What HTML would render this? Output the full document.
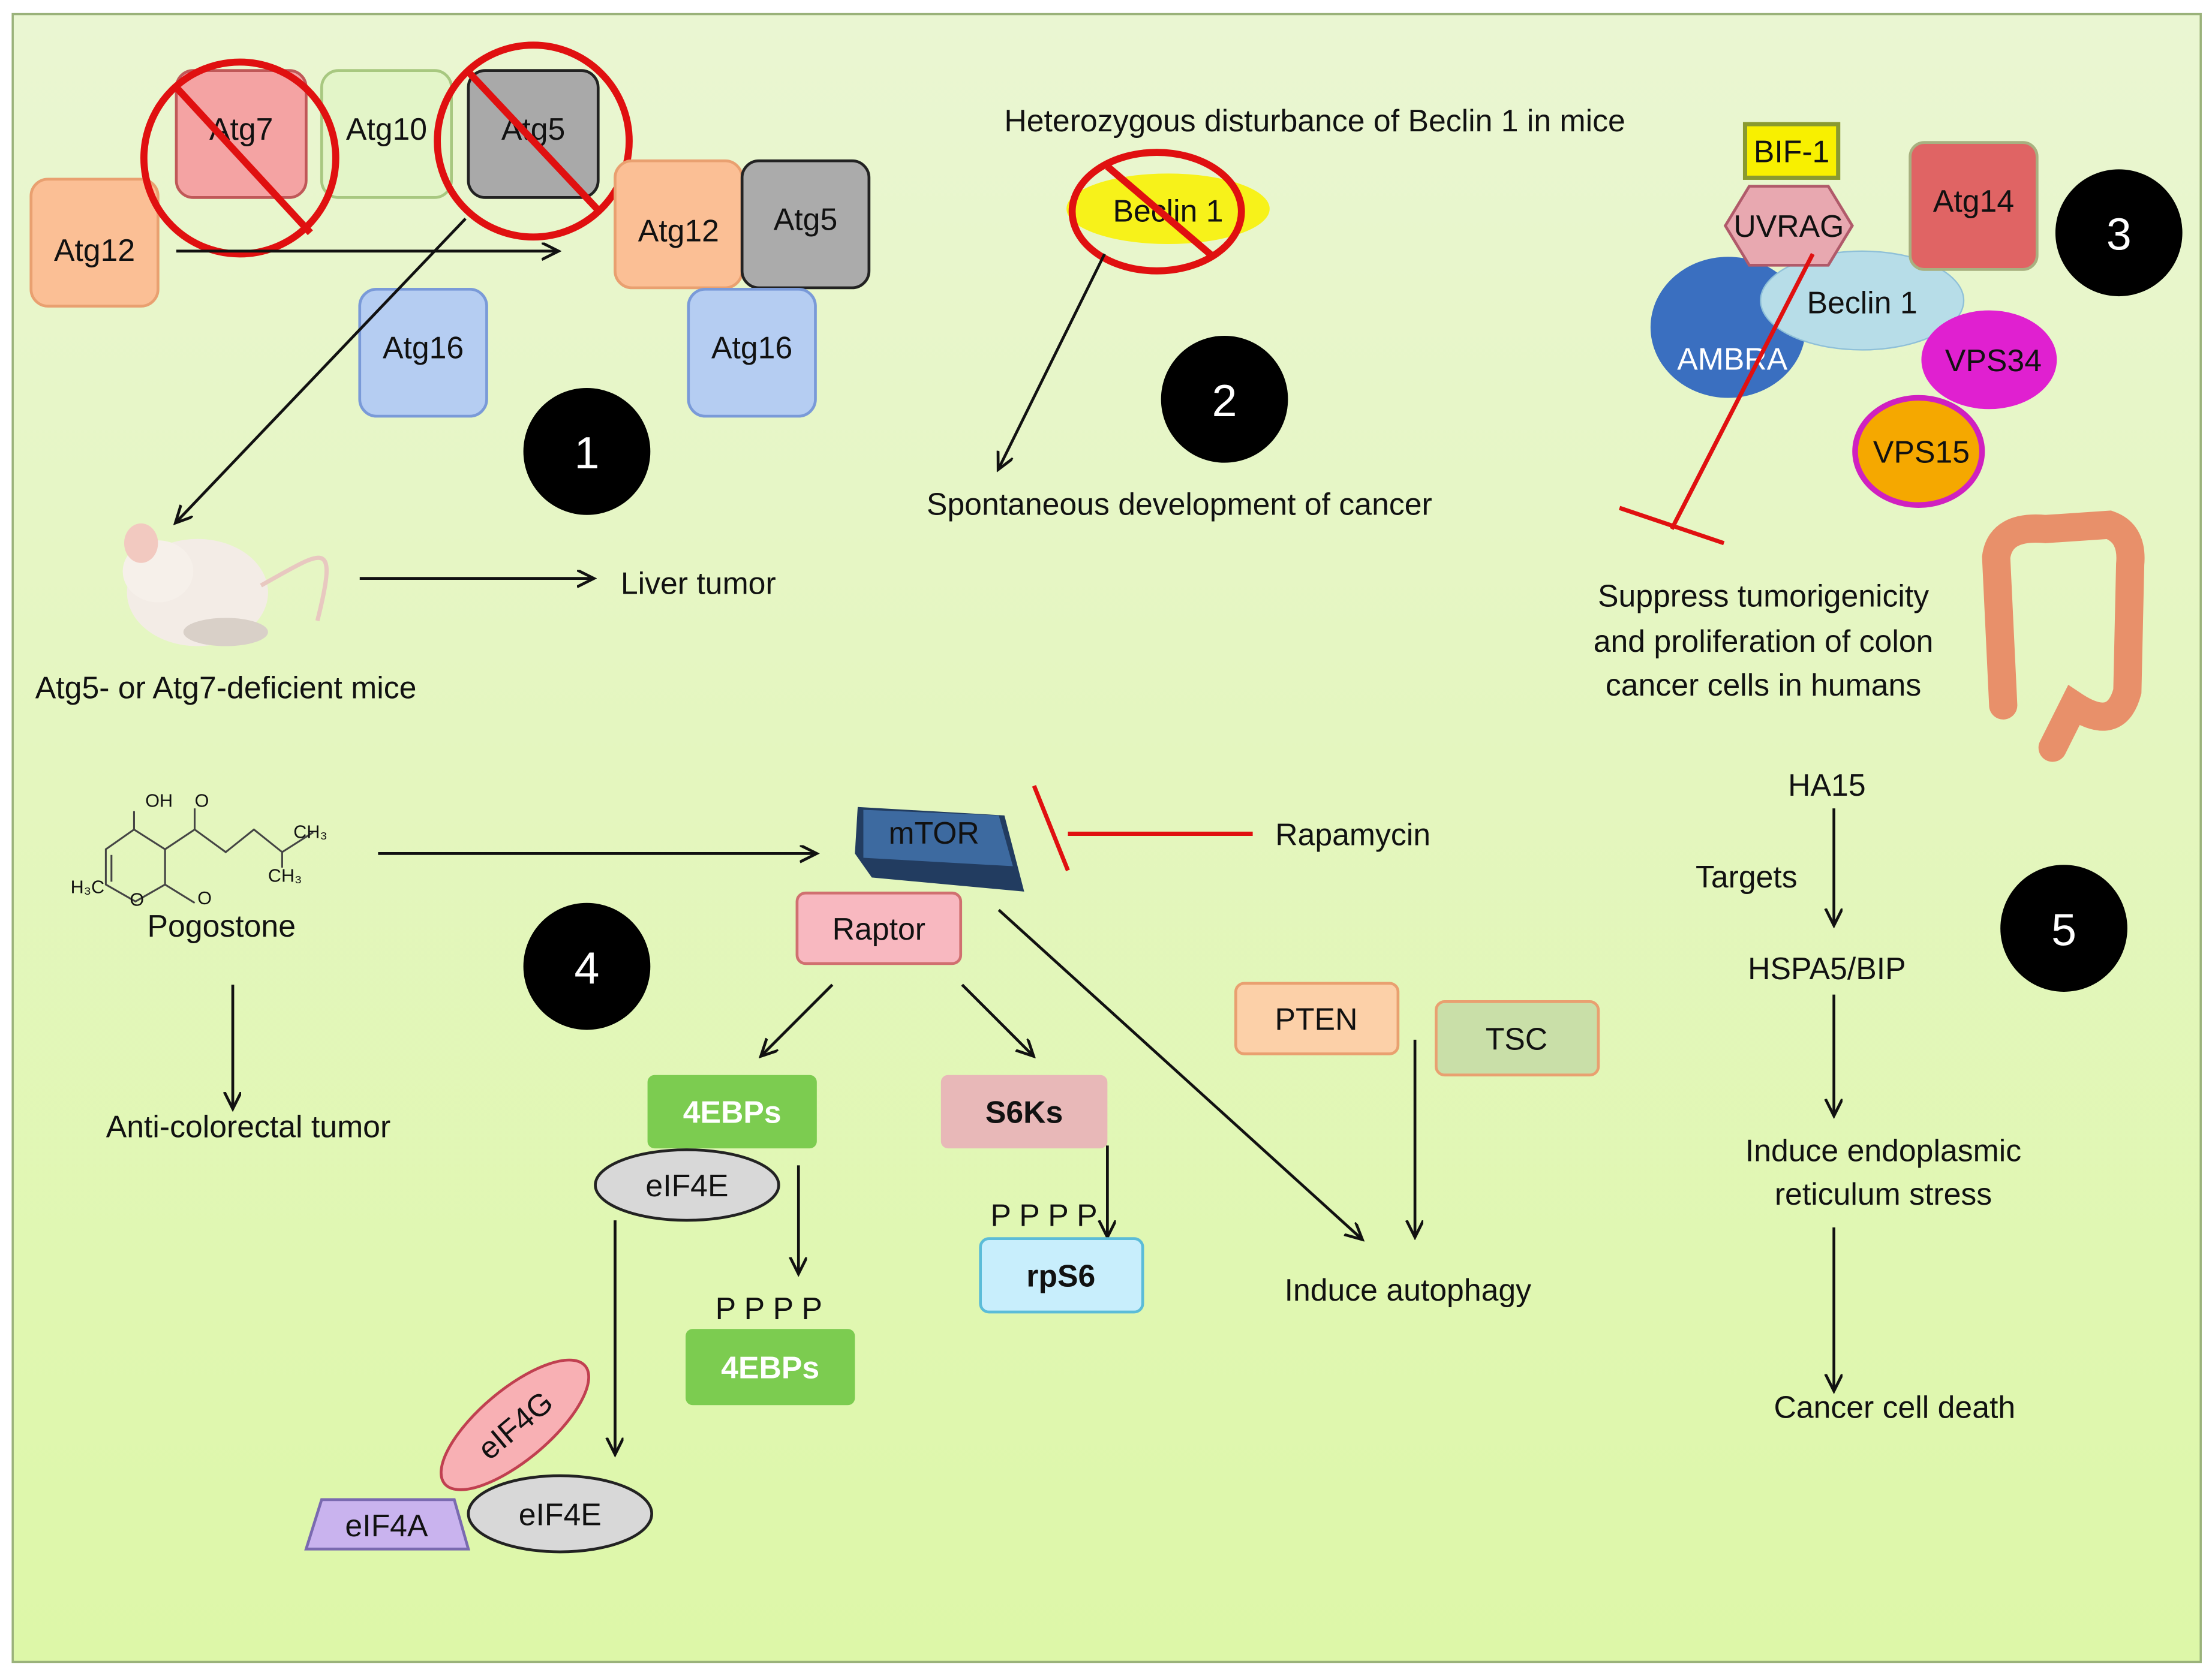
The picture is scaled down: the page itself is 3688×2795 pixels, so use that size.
<!DOCTYPE html>
<html><head><meta charset="utf-8"><style>
html,body{margin:0;padding:0;width:3688px;height:2795px;overflow:hidden;background:#fff}
svg{display:block}
text{font-family:"Liberation Sans",sans-serif;fill:#111}
</style></head><body>
<svg width="3688" height="2795" viewBox="0 0 1568 1188" preserveAspectRatio="none" xmlns="http://www.w3.org/2000/svg">
<defs>
<linearGradient id="bg" x1="0" y1="0" x2="0" y2="1"><stop offset="0" stop-color="#eaf6d2"/><stop offset="1" stop-color="#ddf7a8"/></linearGradient>
<marker id="ar" markerWidth="14" markerHeight="14" refX="11" refY="6" orient="auto" markerUnits="userSpaceOnUse"><path d="M0,0 L12,6 L0,12" fill="none" stroke="#111" stroke-width="2"/></marker>
</defs>
<rect x="0" y="0" width="1568" height="1188" fill="#fff"/>
<rect x="9" y="10" width="1551" height="1168" fill="url(#bg)" stroke="#9ab27a" stroke-width="1.5"/>
<g font-size="22">
<!-- section 1 -->
<rect x="22" y="127" width="90" height="90" rx="12" fill="#fbbf95" stroke="#e9a070" stroke-width="2"/><text x="67" y="185" text-anchor="middle">Atg12</text>
<rect x="125" y="50" width="92" height="90" rx="12" fill="#f4a3a3" stroke="#c05858" stroke-width="2"/><text x="171" y="99" text-anchor="middle">Atg7</text>
<rect x="228" y="50" width="92" height="90" rx="12" fill="#e3f5c8" stroke="#a8c880" stroke-width="2"/><text x="274" y="99" text-anchor="middle">Atg10</text>
<rect x="332" y="50" width="92" height="90" rx="12" fill="#a9a9a9" stroke="#222" stroke-width="2"/><text x="378" y="99" text-anchor="middle">Atg5</text>
<circle cx="170" cy="112" r="68" fill="none" stroke="#e01010" stroke-width="5"/><line x1="125" y1="62" x2="220" y2="165" stroke="#e01010" stroke-width="5"/>
<circle cx="378" cy="100" r="68" fill="none" stroke="#e01010" stroke-width="5"/><line x1="333" y1="52" x2="425" y2="150" stroke="#e01010" stroke-width="5"/>
<line x1="125" y1="178" x2="395" y2="178" stroke="#111" stroke-width="2" marker-end="url(#ar)"/>
<rect x="436" y="114" width="90" height="90" rx="12" fill="#fbbf95" stroke="#e9a070" stroke-width="2"/><text x="481" y="171" text-anchor="middle">Atg12</text>
<rect x="526" y="114" width="90" height="90" rx="12" fill="#ababab" stroke="#222" stroke-width="2"/><text x="571" y="163" text-anchor="middle">Atg5</text>
<rect x="255" y="205" width="90" height="90" rx="12" fill="#b5cdf2" stroke="#7a9ad8" stroke-width="2"/><text x="300" y="254" text-anchor="middle">Atg16</text>
<rect x="488" y="205" width="90" height="90" rx="12" fill="#b5cdf2" stroke="#7a9ad8" stroke-width="2"/><text x="533" y="254" text-anchor="middle">Atg16</text>
<circle cx="416" cy="320" r="45" fill="#000"/><text x="416" y="332" font-size="32" text-anchor="middle" style="fill:#fff">1</text>
<line x1="330" y1="155" x2="125" y2="370" stroke="#111" stroke-width="2" marker-end="url(#ar)"/>
<!-- mouse -->
<ellipse cx="140" cy="420" rx="50" ry="38" fill="#f3ece6"/><ellipse cx="112" cy="405" rx="25" ry="22" fill="#f6f0ea"/><ellipse cx="100" cy="385" rx="12" ry="14" fill="#f2c9c0"/><ellipse cx="160" cy="448" rx="30" ry="10" fill="#d9d0c8"/>
<path d="M185,415 C230,390 240,380 225,440" fill="none" stroke="#e8c8c0" stroke-width="3"/>
<line x1="255" y1="410" x2="420" y2="410" stroke="#111" stroke-width="2" marker-end="url(#ar)"/>
<text x="440" y="421">Liver tumor</text>
<text x="25" y="495">Atg5- or Atg7-deficient mice</text>
<!-- section 2 -->
<text x="932" y="93" text-anchor="middle">Heterozygous disturbance of Beclin 1 in mice</text>
<ellipse cx="828" cy="148" rx="72" ry="25" fill="#f7f21a"/><text x="828" y="157" text-anchor="middle">Beclin 1</text>
<ellipse cx="820" cy="150" rx="60" ry="42" fill="none" stroke="#e01010" stroke-width="5"/><line x1="785" y1="118" x2="860" y2="182" stroke="#e01010" stroke-width="5"/>
<line x1="783" y1="180" x2="708" y2="332" stroke="#111" stroke-width="2" marker-end="url(#ar)"/>
<circle cx="868" cy="283" r="45" fill="#000"/><text x="868" y="295" font-size="32" text-anchor="middle" style="fill:#fff">2</text>
<text x="836" y="365" text-anchor="middle">Spontaneous development of cancer</text>
<!-- section 3 -->
<ellipse cx="1225" cy="232" rx="55" ry="50" fill="#3a6fc0"/><text x="1228" y="262" text-anchor="middle" style="fill:#fff">AMBRA</text>
<ellipse cx="1320" cy="213" rx="72" ry="35" fill="#b7dde8" stroke="#8fc0d8"/><text x="1320" y="222" text-anchor="middle">Beclin 1</text>
<rect x="1237" y="88" width="66" height="38" fill="#f8f000" stroke="#8a9a30" stroke-width="3"/><text x="1270" y="115" text-anchor="middle">BIF-1</text>
<polygon points="1223,160 1240,132 1296,132 1313,160 1296,188 1240,188" fill="#e8a8b0" stroke="#b05a6a" stroke-width="2"/><text x="1268" y="168" text-anchor="middle">UVRAG</text>
<rect x="1354" y="101" width="90" height="90" rx="10" fill="#e06464" stroke="#a8b080" stroke-width="2"/><text x="1399" y="150" text-anchor="middle">Atg14</text>
<circle cx="1502" cy="165" r="45" fill="#000"/><text x="1502" y="177" font-size="32" text-anchor="middle" style="fill:#fff">3</text>
<ellipse cx="1410" cy="255" rx="48" ry="35" fill="#e020d0"/><text x="1413" y="263" text-anchor="middle">VPS34</text>
<ellipse cx="1360" cy="320" rx="45" ry="38" fill="#f5a800" stroke="#d020c0" stroke-width="4"/><text x="1362" y="328" text-anchor="middle">VPS15</text>
<line x1="1285" y1="180" x2="1185" y2="375" stroke="#e01010" stroke-width="3"/><line x1="1148" y1="360" x2="1222" y2="385" stroke="#e01010" stroke-width="3"/>
<text x="1250" y="430" text-anchor="middle">Suppress tumorigenicity</text>
<text x="1250" y="462" text-anchor="middle">and proliferation of colon</text>
<text x="1250" y="493" text-anchor="middle">cancer cells in humans</text>
<path d="M1420,500 L1415,395 Q1418,372 1450,375 L1495,372 Q1512,378 1510,400 L1508,490 Q1500,520 1470,500 L1455,530" fill="none" stroke="#e8906a" stroke-width="20" stroke-linecap="round"/>
<!-- section 4 -->
<g stroke="#444" stroke-width="1.3" fill="none">
<path d="M75,627 L75,602 L95,588 L117,602 L117,627 L96,639 Z M79,606 L79,625"/>
<path d="M95,588 L95,575 M117,602 L138,588 L160,604 L180,588 L200,604 L222,590 M200,604 L200,615 M138,588 L138,573 M117,627 L138,640"/>
</g>
<g font-size="13"><text x="103" y="572">OH</text><text x="138" y="572">O</text><text x="208" y="594">CH₃</text><text x="190" y="625">CH₃</text><text x="50" y="633">H₃C</text><text x="92" y="642">O</text><text x="140" y="641">O</text></g>
<text x="157" y="664" text-anchor="middle">Pogostone</text>
<line x1="268" y1="605" x2="578" y2="605" stroke="#111" stroke-width="2" marker-end="url(#ar)"/>
<line x1="165" y1="698" x2="165" y2="785" stroke="#111" stroke-width="2" marker-end="url(#ar)"/>
<text x="176" y="806" text-anchor="middle">Anti-colorectal tumor</text>
<circle cx="416" cy="685" r="45" fill="#000"/><text x="416" y="697" font-size="32" text-anchor="middle" style="fill:#fff">4</text>
<polygon points="608,572 712,578 726,632 618,622 606,605" fill="#223c60"/><polygon points="612,574 708,578 718,614 612,608" fill="#3d6aa0"/><text x="662" y="598" text-anchor="middle">mTOR</text>
<line x1="757" y1="591" x2="888" y2="591" stroke="#e01010" stroke-width="3"/><line x1="733" y1="557" x2="757" y2="617" stroke="#e01010" stroke-width="3"/>
<text x="904" y="599">Rapamycin</text>
<rect x="565" y="633" width="116" height="50" rx="6" fill="#f8b8c0" stroke="#d07070" stroke-width="2"/><text x="623" y="666" text-anchor="middle">Raptor</text>
<line x1="590" y1="698" x2="540" y2="748" stroke="#111" stroke-width="2" marker-end="url(#ar)"/>
<line x1="682" y1="698" x2="732" y2="748" stroke="#111" stroke-width="2" marker-end="url(#ar)"/>
<line x1="708" y1="645" x2="965" y2="878" stroke="#111" stroke-width="2" marker-end="url(#ar)"/>
<rect x="459" y="762" width="120" height="52" rx="5" fill="#7ccc50"/><text x="519" y="796" text-anchor="middle" font-weight="bold" style="fill:#fff">4EBPs</text>
<ellipse cx="487" cy="840" rx="65" ry="25" fill="#d8d8d8" stroke="#222" stroke-width="2"/><text x="487" y="848" text-anchor="middle">eIF4E</text>
<line x1="566" y1="826" x2="566" y2="902" stroke="#111" stroke-width="2" marker-end="url(#ar)"/>
<text x="545" y="935" text-anchor="middle">P P P P</text>
<rect x="486" y="942" width="120" height="54" rx="5" fill="#7ccc50"/><text x="546" y="977" text-anchor="middle" font-weight="bold" style="fill:#fff">4EBPs</text>
<rect x="667" y="762" width="118" height="52" rx="5" fill="#e8b8b8"/><text x="726" y="796" text-anchor="middle" font-weight="bold">S6Ks</text>
<line x1="785" y1="812" x2="785" y2="876" stroke="#111" stroke-width="2" marker-end="url(#ar)"/>
<text x="740" y="869" text-anchor="middle">P P P P</text>
<rect x="695" y="878" width="115" height="52" rx="6" fill="#c8eefc" stroke="#5bbcd8" stroke-width="2"/><text x="752" y="912" text-anchor="middle" font-weight="bold">rpS6</text>
<line x1="436" y1="865" x2="436" y2="1030" stroke="#111" stroke-width="2" marker-end="url(#ar)"/>
<ellipse cx="365" cy="1010" rx="65" ry="25" transform="rotate(-40 365 1010)" fill="#f8b0b4" stroke="#c04050" stroke-width="2"/><text x="365" y="1018" text-anchor="middle" transform="rotate(-40 365 1010)">eIF4G</text>
<polygon points="228,1063 322,1063 332,1098 217,1098" fill="#c9b3ee" stroke="#7a6ab0" stroke-width="2"/><text x="274" y="1089" text-anchor="middle">eIF4A</text>
<ellipse cx="397" cy="1073" rx="65" ry="27" fill="#d8d8d8" stroke="#222" stroke-width="2"/><text x="397" y="1081" text-anchor="middle">eIF4E</text>
<rect x="876" y="697" width="115" height="50" rx="6" fill="#fcd0a8" stroke="#e9a070" stroke-width="2"/><text x="933" y="730" text-anchor="middle">PTEN</text>
<rect x="1018" y="710" width="115" height="52" rx="6" fill="#c9dfa8" stroke="#e9a070" stroke-width="2"/><text x="1075" y="744" text-anchor="middle">TSC</text>
<line x1="1003" y1="737" x2="1003" y2="876" stroke="#111" stroke-width="2" marker-end="url(#ar)"/>
<text x="998" y="922" text-anchor="middle">Induce autophagy</text>
<!-- section 5 -->
<text x="1295" y="564" text-anchor="middle">HA15</text>
<line x1="1300" y1="573" x2="1300" y2="655" stroke="#111" stroke-width="2" marker-end="url(#ar)"/>
<text x="1238" y="629" text-anchor="middle">Targets</text>
<text x="1295" y="694" text-anchor="middle">HSPA5/BIP</text>
<line x1="1300" y1="705" x2="1300" y2="790" stroke="#111" stroke-width="2" marker-end="url(#ar)"/>
<text x="1335" y="823" text-anchor="middle">Induce endoplasmic</text>
<text x="1335" y="854" text-anchor="middle">reticulum stress</text>
<line x1="1300" y1="870" x2="1300" y2="985" stroke="#111" stroke-width="2" marker-end="url(#ar)"/>
<text x="1343" y="1005" text-anchor="middle">Cancer cell death</text>
<circle cx="1463" cy="658" r="45" fill="#000"/><text x="1463" y="670" font-size="32" text-anchor="middle" style="fill:#fff">5</text>
</g>
</svg>
</body></html>
